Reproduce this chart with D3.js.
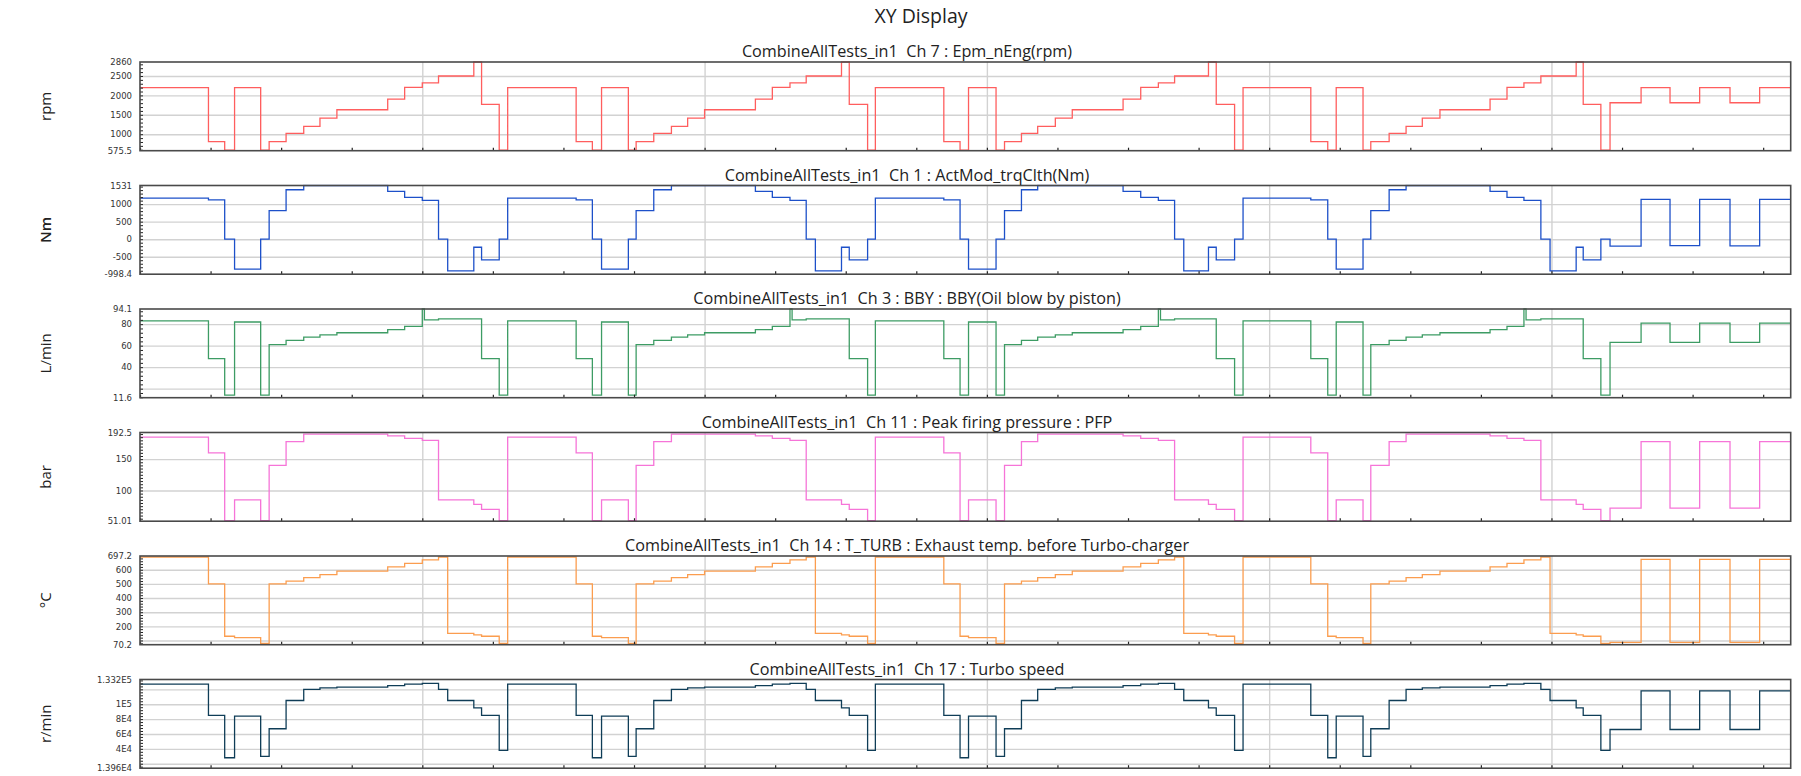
<!DOCTYPE html>
<html>
<head>
<meta charset="utf-8">
<script src="https://cdn.jsdelivr.net/npm/d3@7"></script>
<style>
  body { margin: 0; background: #fff; }
  svg { display: block; }
  .keep-spaces { white-space: pre; }
</style>
</head>
<body>
<svg id="chart" width="1801" height="776"></svg>
<script>
// Segment start times (x units, one minor tick per unit, grid every 4); last entry is the end of data
const tBreaks = [
  0, 0.97, 1.20, 1.34, 1.71, 1.83, 2.07, 2.32, 2.55, 2.79, 3.51, 3.75, 4.00, 4.03, 4.23, 4.36, 4.73, 4.84, 5.09,
  5.21, 6.18, 6.41, 6.54, 6.92, 7.03, 7.28, 7.53, 7.76, 8.00, 8.72, 8.96, 9.21, 9.24, 9.44, 9.57, 9.94, 10.05, 10.31,
  10.42, 11.39, 11.62, 11.74, 12.13, 12.25, 12.49, 12.72, 12.97, 13.21, 13.93, 14.18, 14.43, 14.46, 14.66, 14.79, 15.14, 15.25, 15.51,
  15.63, 16.59, 16.83, 16.95, 17.33, 17.44, 17.70, 17.94, 18.17, 18.42, 19.13, 19.37, 19.61, 19.64, 19.85, 19.98, 20.35, 20.45, 20.70,
  20.83, 21.27, 21.68, 22.10, 22.53, 22.95,
  23.39
];

// Ch 7 : engine speed (rpm), one value per segment
const engineSpeed = [
  2200, 810, 590, 2200, 590, 810, 1020, 1200, 1415, 1630, 1905, 2205, 2320, 2320, 2500, 2500, 2860, 1770, 590,
  2200, 810, 590, 2200, 590, 810, 1020, 1200, 1415, 1630, 1905, 2205, 2320, 2320, 2500, 2500, 2860, 1770, 590,
  2200, 810, 590, 2200, 590, 810, 1020, 1200, 1415, 1630, 1905, 2205, 2320, 2320, 2500, 2500, 2860, 1770, 590,
  2200, 810, 590, 2200, 590, 810, 1020, 1200, 1415, 1630, 1905, 2205, 2320, 2320, 2500, 2500, 2860, 1770, 590,
  1810, 2200, 1810, 2200, 1810, 2200
];

// Ch 1 : clutch torque (Nm)
const clutchTorque = [
  1170, 1120, 0, -855, 0, 815, 1410, 1531, 1531, 1531, 1365, 1190, 1105, 1105, 0, -905, -230, -590, 0,
  1170, 1120, 0, -855, 0, 815, 1410, 1531, 1531, 1531, 1365, 1190, 1105, 1105, 0, -905, -230, -590, 0,
  1170, 1120, 0, -855, 0, 815, 1410, 1531, 1531, 1531, 1365, 1190, 1105, 1105, 0, -905, -230, -590, 0,
  1170, 1120, 0, -855, 0, 815, 1410, 1531, 1531, 1531, 1365, 1190, 1105, 1105, 0, -905, -230, -590, 0,
  -200, 1135, -185, 1135, -190, 1135
];

// Ch 3 : oil blow-by (L/min)
const blowBy = [
  83, 48, 14, 82, 14, 61, 65, 68, 70, 72, 75, 78, 94.1, 84, 85, 85, 85, 48, 14,
  83, 48, 14, 82, 14, 61, 65, 68, 70, 72, 75, 78, 94.1, 84, 85, 85, 85, 48, 14,
  83, 48, 14, 82, 14, 61, 65, 68, 70, 72, 75, 78, 94.1, 84, 85, 85, 85, 48, 14,
  83, 48, 14, 82, 14, 61, 65, 68, 70, 72, 75, 78, 94.1, 84, 85, 85, 85, 48, 14,
  63, 81, 63, 81, 63, 81
];

// Ch 11 : peak firing pressure (bar)
const firingPressure = [
  185, 160, 52, 85, 52, 140, 178, 190, 190, 190, 187, 183, 180, 180, 85, 85, 78, 70, 52,
  185, 160, 52, 85, 52, 140, 178, 190, 190, 190, 187, 183, 180, 180, 85, 85, 78, 70, 52,
  185, 160, 52, 85, 52, 140, 178, 190, 190, 190, 187, 183, 180, 180, 85, 85, 78, 70, 52,
  185, 160, 52, 85, 52, 140, 178, 190, 190, 190, 187, 183, 180, 180, 85, 85, 78, 70, 52,
  72, 178, 72, 178, 72, 178
];

// Ch 14 : exhaust temperature before turbo-charger (°C)
const exhaustTemp = [
  690, 500, 130, 120, 80, 500, 520, 545, 565, 590, 620, 645, 670, 670, 690, 150, 140, 130, 80,
  690, 500, 130, 120, 80, 500, 520, 545, 565, 590, 620, 645, 670, 670, 690, 150, 140, 130, 80,
  690, 500, 130, 120, 80, 500, 520, 545, 565, 590, 620, 645, 670, 670, 690, 150, 140, 130, 80,
  690, 500, 130, 120, 80, 500, 520, 545, 565, 590, 620, 645, 670, 670, 690, 150, 140, 130, 80,
  87, 673, 87, 673, 87, 673
];

// Ch 17 : turbo speed (r/min)
const turboSpeed = [
  127000, 85000, 28000, 84000, 30000, 67000, 105000, 120000, 122000, 123000, 125000, 127000, 128000, 128000, 120000, 105000, 95000, 85000, 38000,
  127000, 85000, 28000, 84000, 30000, 67000, 105000, 120000, 122000, 123000, 125000, 127000, 128000, 128000, 120000, 105000, 95000, 85000, 38000,
  127000, 85000, 28000, 84000, 30000, 67000, 105000, 120000, 122000, 123000, 125000, 127000, 128000, 128000, 120000, 105000, 95000, 85000, 38000,
  127000, 85000, 28000, 84000, 30000, 67000, 105000, 120000, 122000, 123000, 125000, 127000, 128000, 128000, 120000, 105000, 95000, 85000, 38000,
  66000, 118000, 66000, 118000, 66000, 118000
];

// Axis ranges, grid values and tick labels per panel
const rpmRange = [575.5, 2860], rpmGrid = [1000, 1500, 2000, 2500], rpmLabels = ["575.5", "1000", "1500", "2000", "2500", "2860"];
const nmRange = [-998.4, 1531], nmGrid = [-500, 0, 500, 1000], nmLabels = ["-998.4", "-500", "0", "500", "1000", "1531"];
const lminRange = [11.6, 94.1], lminGrid = [20, 40, 60, 80], lminLabels = ["11.6", "", "40", "60", "80", "94.1"];
const barRange = [51.01, 192.5], barGrid = [100, 150], barLabels = ["51.01", "100", "150", "192.5"];
const degRange = [70.2, 697.2], degGrid = [100, 200, 300, 400, 500, 600], degLabels = ["70.2", "", "200", "300", "400", "500", "600", "697.2"];
const turboRange = [13965, 133250], turboGrid = [20000, 40000, 60000, 80000, 100000, 120000], turboLabels = ["1.396E4", "", "4E4", "6E4", "8E4", "1E5", "", "1.332E5"];

const titles = [
  "CombineAllTests_in1  Ch 7 : Epm_nEng(rpm)",
  "CombineAllTests_in1  Ch 1 : ActMod_trqClth(Nm)",
  "CombineAllTests_in1  Ch 3 : BBY : BBY(Oil blow by piston)",
  "CombineAllTests_in1  Ch 11 : Peak firing pressure : PFP",
  "CombineAllTests_in1  Ch 14 : T_TURB : Exhaust temp. before Turbo-charger",
  "CombineAllTests_in1  Ch 17 : Turbo speed"
];
const units = ["rpm", "Nm", "L/min", "bar", "°C", "r/min"];
const unitWeights = [400, 600, 400, 400, 400, 400];
const colors = ["#ff5e5e", "#1d50c9", "#3d9c64", "#f674d8", "#fb9d4f", "#0f3d57"];

const panels = [
  { values: engineSpeed, range: rpmRange, grid: rpmGrid, labels: rpmLabels, minor: 100 },
  { values: clutchTorque, range: nmRange, grid: nmGrid, labels: nmLabels, minor: 100 },
  { values: blowBy, range: lminRange, grid: lminGrid, labels: lminLabels, minor: 4 },
  { values: firingPressure, range: barRange, grid: barGrid, labels: barLabels, minor: 5 },
  { values: exhaustTemp, range: degRange, grid: degGrid, labels: degLabels, minor: 20 },
  { values: turboSpeed, range: turboRange, grid: turboGrid, labels: turboLabels, minor: 4000 }
];

// Layout
const plotLeft = 140, plotRight = 1790.7;
const firstTop = 62, panelStep = 123.5, panelH = 88.7;
const xMax = tBreaks[tBreaks.length - 1];
const fontUI = "'Open Sans', 'Noto Sans', sans-serif";

const svg = d3.select("#chart");
svg.append("rect").attr("width", 1801).attr("height", 776).attr("fill", "#fff");

svg.append("text")
  .attr("x", 921).attr("y", 23)
  .attr("text-anchor", "middle")
  .attr("font-family", fontUI).attr("font-size", 19.5).attr("fill", "#222")
  .text("XY Display");

const x = d3.scaleLinear().domain([0, xMax]).range([plotLeft, plotRight]);
const xTickVals = d3.range(0, Math.floor(xMax) + 1);
const xGridVals = xTickVals.filter(t => t % 4 === 0 && t > 0);

panels.forEach((p, i) => {
  const top = firstTop + i * panelStep, bottom = top + panelH;
  const y = d3.scaleLinear().domain(p.range).range([bottom, top]);
  const g = svg.append("g");

  // horizontal grid
  g.append("g")
    .attr("transform", `translate(${plotLeft},0)`)
    .call(d3.axisLeft(y).tickValues(p.grid).tickSize(-(plotRight - plotLeft)).tickFormat(""))
    .call(a => a.select(".domain").remove())
    .call(a => a.selectAll("line").attr("stroke", "#d2d2d2").attr("stroke-width", 1.4));

  // vertical grid
  g.append("g")
    .attr("transform", `translate(0,${bottom})`)
    .call(d3.axisBottom(x).tickValues(xGridVals).tickSize(-panelH).tickFormat(""))
    .call(a => a.select(".domain").remove())
    .call(a => a.selectAll("line").attr("stroke", "#d2d2d2").attr("stroke-width", 1.4));

  // data trace
  const pts = p.values.map((v, k) => [tBreaks[k], v]);
  pts.push([tBreaks[tBreaks.length - 1], p.values[p.values.length - 1]]);
  const clipId = "clip" + i;
  svg.append("clipPath").attr("id", clipId)
    .append("rect").attr("x", plotLeft).attr("y", top - 1).attr("width", plotRight - plotLeft).attr("height", panelH + 2);
  g.append("path")
    .datum(pts)
    .attr("clip-path", `url(#${clipId})`)
    .attr("fill", "none")
    .attr("stroke", colors[i])
    .attr("stroke-width", 1.3)
    .attr("d", d3.line().x(d => x(d[0])).y(d => y(d[1])).curve(d3.curveStepAfter));

  // minor ticks along the left edge, pointing inward
  const minorVals = d3.range(Math.ceil(p.range[0] / p.minor) * p.minor, p.range[1], p.minor);
  g.append("g")
    .attr("transform", `translate(${plotLeft},0)`)
    .call(d3.axisRight(y).tickValues(minorVals).tickSize(3).tickFormat(""))
    .call(a => a.select(".domain").remove())
    .call(a => a.selectAll("line").attr("stroke", "#222").attr("stroke-width", 1));

  // x ticks along the bottom edge, pointing inward
  g.append("g")
    .attr("transform", `translate(0,${bottom})`)
    .call(d3.axisTop(x).tickValues(xTickVals).tickSize(3).tickFormat(""))
    .call(a => a.select(".domain").remove())
    .call(a => a.selectAll("line").attr("stroke", "#222").attr("stroke-width", 1.2));

  // y tick labels: range ends plus labelled grid values
  const labelVals = [p.range[0], ...p.grid, p.range[1]];
  g.append("g")
    .attr("transform", `translate(${plotLeft},0)`)
    .call(d3.axisLeft(y).tickValues(labelVals).tickSize(0).tickPadding(8).tickFormat((d, k) => p.labels[k]))
    .call(a => a.select(".domain").remove())
    .call(a => a.selectAll("text")
      .attr("font-family", "'DejaVu Sans', sans-serif")
      .attr("font-size", 8.5)
      .attr("fill", "#333"));

  // frame
  g.append("rect")
    .attr("x", plotLeft).attr("y", top)
    .attr("width", plotRight - plotLeft).attr("height", panelH)
    .attr("fill", "none").attr("stroke", "#4a4a4a").attr("stroke-width", 1.6);

  // panel title
  svg.append("text")
    .attr("class", "keep-spaces")
    .attr("x", 907).attr("y", top - 5)
    .attr("text-anchor", "middle")
    .attr("font-family", fontUI).attr("font-size", 16.2).attr("fill", "#222")
    .text(titles[i]);

  // unit label
  svg.append("text")
    .attr("transform", `translate(46,${top + panelH / 2}) rotate(-90)`)
    .attr("text-anchor", "middle")
    .attr("dy", "0.35em")
    .attr("font-family", fontUI).attr("font-size", 15).attr("font-weight", unitWeights[i]).attr("fill", "#222")
    .text(units[i]);
});
</script>
</body>
</html>
